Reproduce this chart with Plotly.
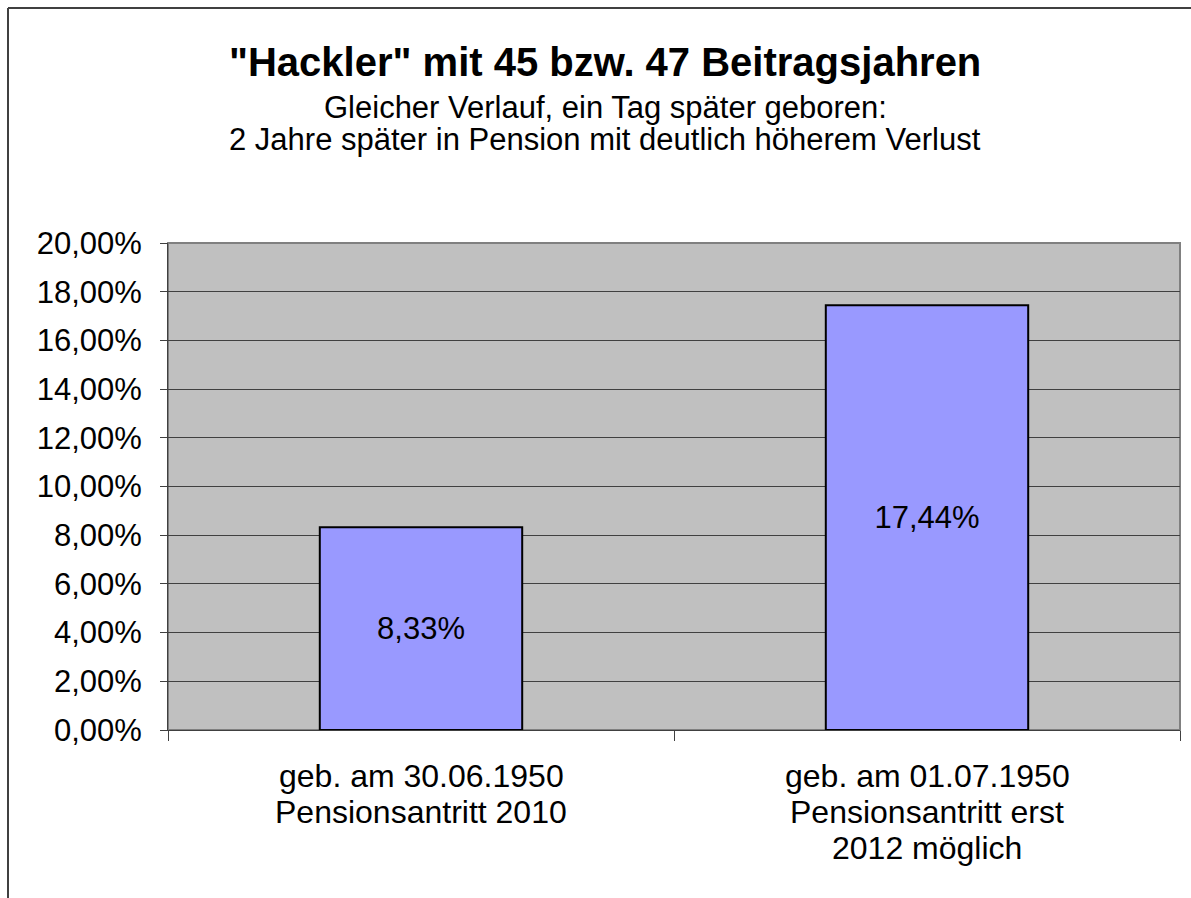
import plotly.graph_objects as go

categories = ["geb. am 30.06.1950<br>Pensionsantritt 2010",
              "geb. am 01.07.1950<br>Pensionsantritt erst<br>2012 möglich"]
values = [0.0833, 0.1744]
y_ticks = [0, 0.02, 0.04, 0.06, 0.08, 0.10, 0.12, 0.14, 0.16, 0.18, 0.20]

title = '<b>"Hackler" mit 45 bzw. 47 Beitragsjahren</b>'
subtitle1 = "Gleicher Verlauf, ein Tag später geboren:"
subtitle2 = "2 Jahre später in Pension mit deutlich höherem Verlust"

W, H = 1191, 898
L, R, T, B = 168, 11, 243, 168
pw = W - L - R
ph = H - T - B
FONT = "Liberation Sans, Arial"

def px2x(px):
    return (px - L) / pw

def px2y(py):
    return (H - B - py) / ph

fig = go.Figure()
fig.add_trace(go.Bar(
    x=categories, y=values, width=0.4,
    marker=dict(color="#9999FF", line=dict(color="black", width=2)),
    texttemplate="%{y:.2%}", textposition="inside", insidetextanchor="middle",
    textfont=dict(size=31, color="black", family=FONT),
    textangle=0, showlegend=False, hoverinfo="skip",
))

annotations = [
    dict(text=title, xref="paper", yref="paper", x=px2x(605), y=px2y(62),
         showarrow=False, xanchor="center", yanchor="middle",
         font=dict(size=40, color="black")),
    dict(text=subtitle1, xref="paper", yref="paper", x=px2x(605), y=px2y(107),
         showarrow=False, xanchor="center", yanchor="middle",
         font=dict(size=31, color="black")),
    dict(text=subtitle2, xref="paper", yref="paper", x=px2x(605), y=px2y(140),
         showarrow=False, xanchor="center", yanchor="middle",
         font=dict(size=31, color="black")),
]
# category labels, one annotation per line for Excel-like line spacing
for cat in categories:
    for i, line in enumerate(cat.split("<br>")):
        annotations.append(dict(text=line, xref="x", yref="paper", x=cat,
                                y=px2y(776 + 36 * i), showarrow=False,
                                xanchor="center", yanchor="middle",
                                font=dict(size=32, color="black")))

fig.update_layout(
    width=W, height=H,
    margin=dict(l=L, r=R, t=T, b=B),
    paper_bgcolor="white", plot_bgcolor="#C0C0C0",
    separators=",.",
    font=dict(family=FONT, size=31, color="black"),
    xaxis=dict(showgrid=False, showline=True, linecolor="#404040", linewidth=1,
               ticks="outside", tickson="boundaries", ticklen=10, tickcolor="#404040",
               showticklabels=False),
    yaxis=dict(range=[0, 0.2], tickvals=y_ticks, tickformat=".2%",
               showgrid=True, gridcolor="#404040", gridwidth=1,
               showline=True, linecolor="#404040", linewidth=1,
               ticks="outside", ticklen=7, tickcolor="#404040",
               ticklabelstandoff=12,
               tickfont=dict(size=31), zeroline=False),
    shapes=[
        dict(type="rect", xref="paper", yref="paper", x0=0, x1=1, y0=0, y1=1,
             line=dict(color="#808080", width=2), layer="below"),
        dict(type="line", xref="paper", yref="paper", x0=px2x(8), x1=px2x(1200),
             y0=px2y(8), y1=px2y(8), line=dict(color="#404040", width=2)),
        dict(type="line", xref="paper", yref="paper", x0=px2x(8), x1=px2x(8),
             y0=px2y(8), y1=px2y(910), line=dict(color="#404040", width=2)),
    ],
    annotations=annotations,
)

fig.write_html("out.html", config={"displayModeBar": False},
               post_script="document.body.style.margin='0';")
